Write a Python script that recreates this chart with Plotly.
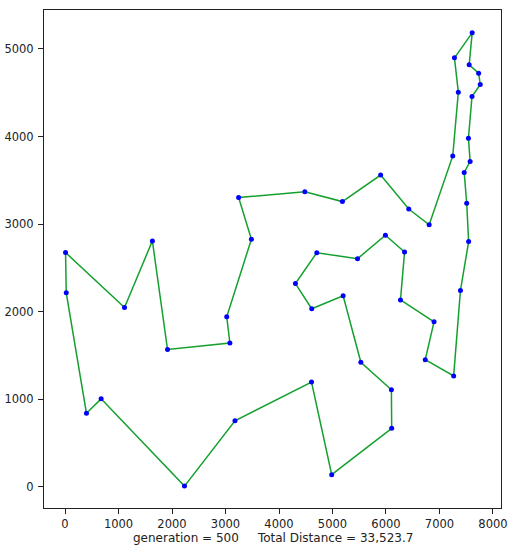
import plotly.graph_objects as go

# Ordre de la tournée (villes visitées), coordonnées
tour_x = [10, 23, 401, 675, 2233, 3177, 4608, 4985, 6107, 6101, 5530, 5199,
          4612, 4307, 4706, 5468, 5989, 6347, 6271, 6898, 6734, 7265, 7392, 7545,
          7509, 7462, 7573, 7541, 7608, 7762, 7732, 7555, 7611, 7280, 7352, 7248,
          6807, 6426, 5900, 5185, 4483, 3245, 3484, 3023, 3082, 1916, 1633, 1112]
tour_y = [2676, 2216, 841, 1006, 10, 756, 1198, 140, 669, 1110, 1424, 2182,
          2035, 2322, 2674, 2606, 2873, 2683, 2135, 1885, 1453, 1268, 2244, 2801,
          3239, 3590, 3716, 3981, 4458, 4595, 4723, 4819, 5184, 4899, 4506, 3779,
          2993, 3173, 3561, 3258, 3369, 3305, 2829, 1942, 1644, 1569, 2809, 2049]

generation = 500
total_distance = 33523.7

x_ticks = [0, 1000, 2000, 3000, 4000, 5000, 6000, 7000, 8000]
y_ticks = [0, 1000, 2000, 3000, 4000, 5000]

# boucle fermée
line_x = tour_x + [tour_x[0]]
line_y = tour_y + [tour_y[0]]

fig = go.Figure()

fig.add_trace(go.Scatter(
    x=line_x, y=line_y,
    mode='lines',
    line=dict(color='#14a02e', width=1.5),
    hoverinfo='skip',
    showlegend=False
))

fig.add_trace(go.Scatter(
    x=tour_x, y=tour_y,
    mode='markers',
    marker=dict(color='#0000ff', size=5, line=dict(width=0)),
    showlegend=False
))

axis_style = dict(
    showgrid=False,
    zeroline=False,
    showline=True,
    linecolor='#222222',
    linewidth=1,
    mirror=True,
    ticks='outside',
    ticklen=5,
    tickwidth=1,
    tickcolor='#222222',
    tickfont=dict(family='DejaVu Sans', size=11.5, color='#222222'),
    automargin=False,
)

fig.update_xaxes(
    range=[-393, 8150],
    tickvals=x_ticks,
    ticktext=[str(v) for v in x_ticks],
    **axis_style
)
fig.update_yaxes(
    range=[-240, 5445],
    tickvals=y_ticks,
    ticktext=[str(v) for v in y_ticks],
    ticklabelstandoff=2,
    **axis_style
)

# légende sous l'axe x (comme le xlabel de matplotlib)
fig.add_annotation(
    text=f"generation = {generation}     Total Distance = {total_distance:,.1f}",
    x=0.5, y=0, xref='paper', yref='paper',
    xanchor='center', yanchor='top', yshift=-21,
    showarrow=False,
    font=dict(family='DejaVu Sans', size=12, color='#222222'),
)

fig.update_layout(
    width=510, height=550,
    margin=dict(l=44, r=9, t=10, b=42),
    paper_bgcolor='white',
    plot_bgcolor='white',
)

# on retire la marge de 8 px du <body> pour caler le graphique sur la fenêtre
fig.write_html("out.html", config={'displayModeBar': False},
               post_script="document.body.style.margin='0';")
